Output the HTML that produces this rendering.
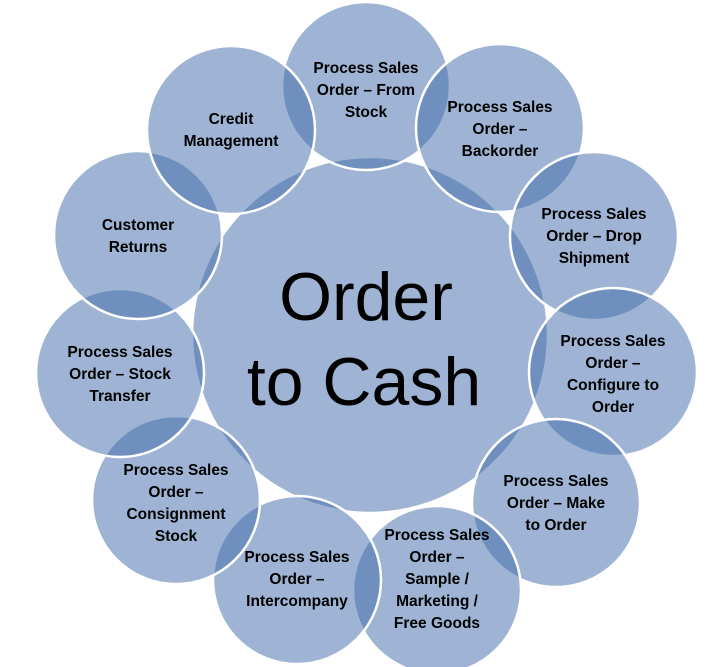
<!DOCTYPE html>
<html><head><meta charset="utf-8"><style>
html,body{margin:0;padding:0;background:#fff;}
svg{display:block;}
text{font-family:"Liberation Sans",sans-serif;font-weight:bold;font-size:15.5px;fill:#000;text-anchor:middle;}
.big{font-weight:normal;font-size:68px;}
</style></head><body>
<svg width="717" height="667" viewBox="0 0 717 667">
<g fill="rgba(63,105,169,0.5)" stroke="#fff" stroke-width="2.5">
<circle cx="370" cy="335" r="178"/>
<circle cx="366" cy="86" r="84"/>
<circle cx="500" cy="128" r="84"/>
<circle cx="594" cy="236" r="84"/>
<circle cx="613" cy="372" r="84"/>
<circle cx="556" cy="503" r="84"/>
<circle cx="437" cy="590" r="84"/>
<circle cx="297" cy="580" r="84"/>
<circle cx="176" cy="500" r="84"/>
<circle cx="120" cy="373" r="84"/>
<circle cx="138" cy="235" r="84"/>
<circle cx="231" cy="130" r="84"/>
</g>
<text class="big" x="366" y="320">Order</text>
<text class="big" x="364" y="405">to Cash</text>
<text x="366" y="73">Process Sales</text><text x="366" y="95">Order – From</text><text x="366" y="117">Stock</text>
<text x="500" y="112">Process Sales</text><text x="500" y="134">Order –</text><text x="500" y="156">Backorder</text>
<text x="594" y="219">Process Sales</text><text x="594" y="241">Order – Drop</text><text x="594" y="263">Shipment</text>
<text x="613" y="346">Process Sales</text><text x="613" y="368">Order –</text><text x="613" y="390">Configure to</text><text x="613" y="412">Order</text>
<text x="556" y="486">Process Sales</text><text x="556" y="508">Order – Make</text><text x="556" y="530">to Order</text>
<text x="437" y="540">Process Sales</text><text x="437" y="562">Order –</text><text x="437" y="584">Sample /</text><text x="437" y="606">Marketing /</text><text x="437" y="628">Free Goods</text>
<text x="297" y="562">Process Sales</text><text x="297" y="584">Order –</text><text x="297" y="606">Intercompany</text>
<text x="176" y="475">Process Sales</text><text x="176" y="497">Order –</text><text x="176" y="519">Consignment</text><text x="176" y="541">Stock</text>
<text x="120" y="357">Process Sales</text><text x="120" y="379">Order – Stock</text><text x="120" y="401">Transfer</text>
<text x="138" y="230">Customer</text><text x="138" y="252">Returns</text>
<text x="231" y="124">Credit</text><text x="231" y="146">Management</text>
</svg>
</body></html>
